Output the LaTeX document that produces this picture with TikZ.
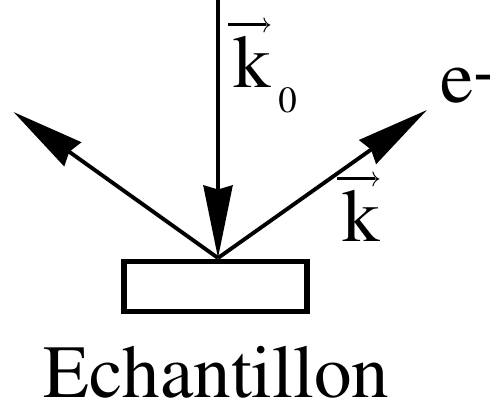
\documentclass[tikz,border=0pt]{standalone}
\usepackage{amsmath}
\usepackage[T1]{fontenc}
\usepackage{mathptmx}
\usetikzlibrary{arrows.meta,positioning}

% k with a vector arrow over it
\newcommand{\vk}{\leavevmode\rlap{\kern-0.07em\raisebox{0.746em}{\rule[0.074em]{0.5em}{0.04em}\kern-0.285em{\fontsize{16}{16}\selectfont$\rightarrow$}}}k}

\begin{document}
\begin{tikzpicture}[
  ray/.style={line width=2.2pt, -{Stealth[length=1.45cm,width=0.58cm,inset=0.08cm]}},
  lbl/.style={inner sep=0pt, anchor=base west, font=\fontsize{42.7}{50}\selectfont},
]
  \useasboundingbox (0,0) rectangle (9.8,8.06);
  % sample and impact point
  \node[draw, line width=3.4pt, minimum width=3.66cm, minimum height=1cm, inner sep=0pt] (sample) at (4.31,2.33) {};
  \coordinate (O) at (4.36,2.9);
  \coordinate (src) at (4.36,8.06);
  \coordinate (back) at (0.27,5.82);
  \coordinate (out) at (8.54,5.86);
  \draw[ray] (src) -- (O);
  \draw[ray] (O) -- (back);
  \draw[ray] (O) -- (out);
  % labels
  \node[lbl] (k0) at (4.66,6.3) {\vk\kern0.1em\raisebox{-0.32em}{\fontsize{21}{21}\selectfont 0}};
  \node[lbl] (k) at (6.84,3.22) {\vk};
  \node[lbl] (e) at (8.8,6.0) {e\raisebox{0.11em}{-}};
  \node[lbl, anchor=base] (name) at (4.33,0.1) {Echantillon};
\end{tikzpicture}
\end{document}
